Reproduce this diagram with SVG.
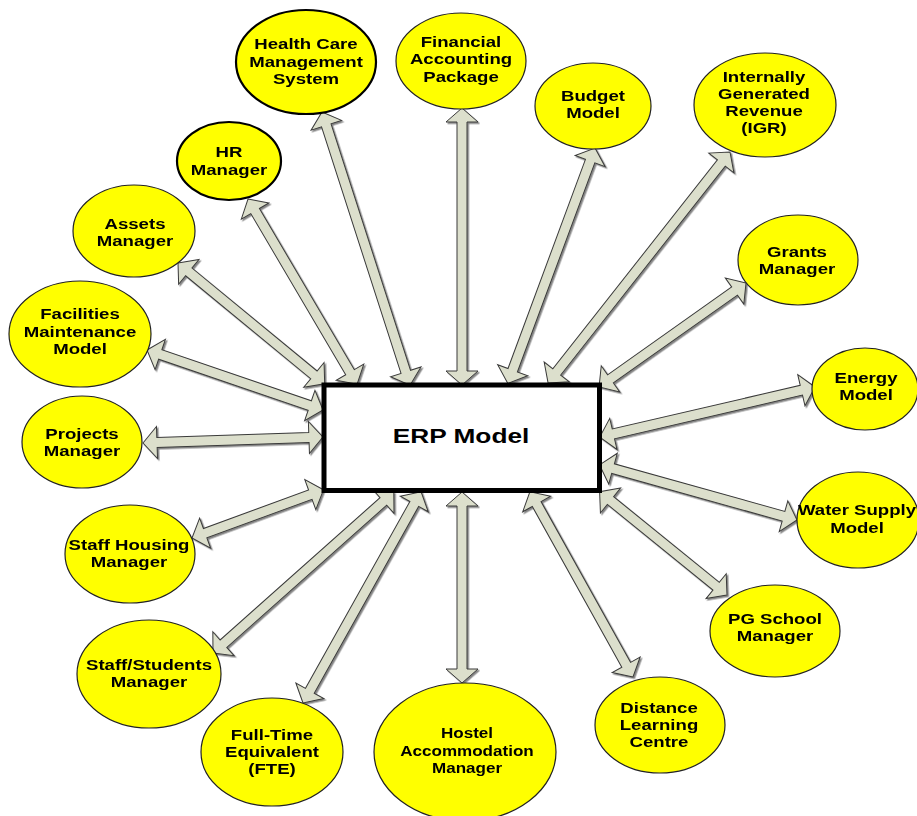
<svg xmlns="http://www.w3.org/2000/svg" width="917" height="816" viewBox="0 0 917 816">
<defs>
<filter id="sh" x="-10%" y="-10%" width="120%" height="120%">
<feDropShadow dx="1.5" dy="1.5" stdDeviation="0.6" flood-color="#777777" flood-opacity="0.9"/>
</filter>
<style>
.arr{fill:#dcdfcc;stroke:#3a3a3a;stroke-width:1;stroke-linejoin:miter}
.el{fill:#ffff00;stroke:#222222;stroke-width:1.2}
.thick{stroke:#000000;stroke-width:2.2}
.t{font-family:"Liberation Sans",Arial,sans-serif;font-weight:bold;font-size:15.5px;text-anchor:middle;fill:#000}
.big{font-size:21px}
</style>
</defs>
<rect width="917" height="816" fill="#ffffff"/>
<g id="connectors" filter="url(#sh)">
<g transform="translate(322,112) rotate(72.13)"><polygon class="arr" points="0,0 14,-16 14,-5 273,-5 273,-16 287,0 273,16 273,5 14,5 14,16"/></g>
<g transform="translate(462,108) rotate(90)"><polygon class="arr" points="0,0 14,-16 14,-5 263,-5 263,-16 277,0 263,16 263,5 14,5 14,16"/></g>
<g transform="translate(248,199) rotate(59.5)"><polygon class="arr" points="0,0 14,-16 14,-5 201,-5 201,-16 215,0 201,16 201,5 14,5 14,16"/></g>
<g transform="translate(178,263) rotate(39.46)"><polygon class="arr" points="0,0 14,-16 14,-5 176,-5 176,-16 190,0 176,16 176,5 14,5 14,16"/></g>
<g transform="translate(147,350) rotate(18.83)"><polygon class="arr" points="0,0 14,-16 14,-5 172,-5 172,-16 186,0 172,16 172,5 14,5 14,16"/></g>
<g transform="translate(143,443) rotate(-1.91)"><polygon class="arr" points="0,0 14,-16 14,-5 166,-5 166,-16 180,0 166,16 166,5 14,5 14,16"/></g>
<g transform="translate(192,538) rotate(-20.12)"><polygon class="arr" points="0,0 14,-16 14,-5 126,-5 126,-16 140,0 126,16 126,5 14,5 14,16"/></g>
<g transform="translate(213,653) rotate(-41.65)"><polygon class="arr" points="0,0 14,-16 14,-5 228,-5 228,-16 242,0 228,16 228,5 14,5 14,16"/></g>
<g transform="translate(303,703) rotate(-60.79)"><polygon class="arr" points="0,0 14,-16 14,-5 228,-5 228,-16 242,0 228,16 228,5 14,5 14,16"/></g>
<g transform="translate(462,683) rotate(-90)"><polygon class="arr" points="0,0 14,-16 14,-5 177,-5 177,-16 191,0 177,16 177,5 14,5 14,16"/></g>
<g transform="translate(633,677) rotate(-119.11)"><polygon class="arr" points="0,0 14,-16 14,-5 198,-5 198,-16 212,0 198,16 198,5 14,5 14,16"/></g>
<g transform="translate(727,595) rotate(-140.96)"><polygon class="arr" points="0,0 14,-16 14,-5 150,-5 150,-16 164,0 150,16 150,5 14,5 14,16"/></g>
<g transform="translate(797,520) rotate(-164.4)"><polygon class="arr" points="0,0 14,-16 14,-5 191,-5 191,-16 205,0 191,16 191,5 14,5 14,16"/></g>
<g transform="translate(815,387) rotate(166.91)"><polygon class="arr" points="0,0 14,-16 14,-5 207,-5 207,-16 221,0 207,16 207,5 14,5 14,16"/></g>
<g transform="translate(746,283) rotate(144.72)"><polygon class="arr" points="0,0 14,-16 14,-5 166,-5 166,-16 180,0 166,16 166,5 14,5 14,16"/></g>
<g transform="translate(730,152) rotate(128.23)"><polygon class="arr" points="0,0 14,-16 14,-5 280,-5 280,-16 294,0 280,16 280,5 14,5 14,16"/></g>
<g transform="translate(595,148) rotate(110.32)"><polygon class="arr" points="0,0 14,-16 14,-5 237,-5 237,-16 251,0 237,16 237,5 14,5 14,16"/></g>
</g>
<g id="erp">
<rect x="324" y="385" width="275.5" height="105.5" fill="#ffffff" stroke="#000000" stroke-width="5"/>
<text class="t big" transform="translate(461 0) scale(1.25 1)" x="0" y="443">ERP Model</text>
</g>
<g id="healthcare">
<ellipse class="el thick" cx="306" cy="62" rx="70" ry="52"/>
<text class="t" transform="translate(306 0) scale(1.2 1)"><tspan x="0" y="49">Health Care</tspan><tspan x="0" y="67">Management</tspan><tspan x="0" y="84">System</tspan></text>
</g>
<g id="financial">
<ellipse class="el" cx="461" cy="61" rx="65" ry="48"/>
<text class="t" transform="translate(461 0) scale(1.2 1)"><tspan x="0" y="47">Financial</tspan><tspan x="0" y="64.5">Accounting</tspan><tspan x="0" y="82">Package</tspan></text>
</g>
<g id="budget">
<ellipse class="el" cx="593" cy="106" rx="58" ry="43"/>
<text class="t" transform="translate(593 0) scale(1.2 1)"><tspan x="0" y="101">Budget</tspan><tspan x="0" y="118">Model</tspan></text>
</g>
<g id="igr">
<ellipse class="el" cx="765" cy="105" rx="71" ry="52"/>
<text class="t" transform="translate(764 0) scale(1.2 1)"><tspan x="0" y="82">Internally</tspan><tspan x="0" y="99">Generated</tspan><tspan x="0" y="116">Revenue</tspan><tspan x="0" y="133">(IGR)</tspan></text>
</g>
<g id="grants">
<ellipse class="el" cx="798" cy="260" rx="60" ry="45"/>
<text class="t" transform="translate(797 0) scale(1.2 1)"><tspan x="0" y="257">Grants</tspan><tspan x="0" y="274">Manager</tspan></text>
</g>
<g id="energy">
<ellipse class="el" cx="865" cy="389" rx="53" ry="41"/>
<text class="t" transform="translate(866 0) scale(1.2 1)"><tspan x="0" y="383">Energy</tspan><tspan x="0" y="400">Model</tspan></text>
</g>
<g id="water">
<ellipse class="el" cx="858" cy="520" rx="61" ry="48"/>
<text class="t" transform="translate(857 0) scale(1.2 1)"><tspan x="0" y="515">Water Supply</tspan><tspan x="0" y="533">Model</tspan></text>
</g>
<g id="pgschool">
<ellipse class="el" cx="775" cy="631" rx="65" ry="46"/>
<text class="t" transform="translate(775 0) scale(1.2 1)"><tspan x="0" y="624">PG School</tspan><tspan x="0" y="641">Manager</tspan></text>
</g>
<g id="distance">
<ellipse class="el" cx="660" cy="725" rx="65" ry="48"/>
<text class="t" transform="translate(659 0) scale(1.2 1)"><tspan x="0" y="713">Distance</tspan><tspan x="0" y="730">Learning</tspan><tspan x="0" y="747">Centre</tspan></text>
</g>
<g id="hostel">
<ellipse class="el" cx="465" cy="752" rx="91" ry="69"/>
<text class="t" transform="translate(467 0) scale(1.1 1)"><tspan x="0" y="738">Hostel</tspan><tspan x="0" y="756">Accommodation</tspan><tspan x="0" y="773">Manager</tspan></text>
</g>
<g id="fte">
<ellipse class="el" cx="272" cy="752" rx="71" ry="54"/>
<text class="t" transform="translate(272 0) scale(1.2 1)"><tspan x="0" y="740">Full-Time</tspan><tspan x="0" y="757">Equivalent</tspan><tspan x="0" y="774">(FTE)</tspan></text>
</g>
<g id="staffstudents">
<ellipse class="el" cx="149" cy="674" rx="72" ry="54"/>
<text class="t" transform="translate(149 0) scale(1.2 1)"><tspan x="0" y="670">Staff/Students</tspan><tspan x="0" y="687">Manager</tspan></text>
</g>
<g id="staffhousing">
<ellipse class="el" cx="130" cy="554" rx="65" ry="49"/>
<text class="t" transform="translate(129 0) scale(1.2 1)"><tspan x="0" y="550">Staff Housing</tspan><tspan x="0" y="567">Manager</tspan></text>
</g>
<g id="projects">
<ellipse class="el" cx="82" cy="442" rx="60" ry="46"/>
<text class="t" transform="translate(82 0) scale(1.2 1)"><tspan x="0" y="439">Projects</tspan><tspan x="0" y="456">Manager</tspan></text>
</g>
<g id="facilities">
<ellipse class="el" cx="80" cy="334" rx="71" ry="53"/>
<text class="t" transform="translate(80 0) scale(1.2 1)"><tspan x="0" y="319">Facilities</tspan><tspan x="0" y="337">Maintenance</tspan><tspan x="0" y="354">Model</tspan></text>
</g>
<g id="assets">
<ellipse class="el" cx="134" cy="231" rx="61" ry="46"/>
<text class="t" transform="translate(135 0) scale(1.2 1)"><tspan x="0" y="229">Assets</tspan><tspan x="0" y="246">Manager</tspan></text>
</g>
<g id="hr">
<ellipse class="el thick" cx="229" cy="161" rx="52" ry="39"/>
<text class="t" transform="translate(229 0) scale(1.2 1)"><tspan x="0" y="157">HR</tspan><tspan x="0" y="175">Manager</tspan></text>
</g>
</svg>
